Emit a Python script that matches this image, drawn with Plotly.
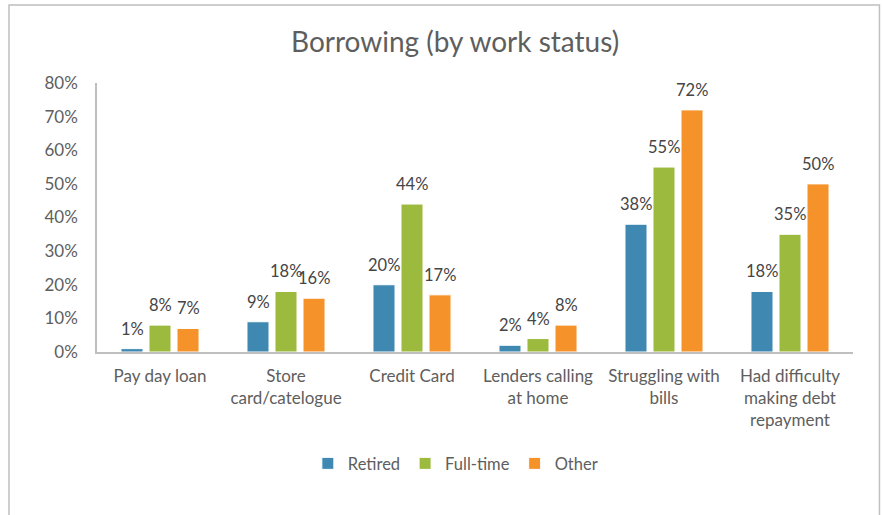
import plotly.graph_objects as go

# Borrowing behaviour by work status (share of respondents)
categories = [
    "Pay day loan",
    "Store<br>card/catelogue",
    "Credit Card",
    "Lenders calling<br>at home",
    "Struggling with<br>bills",
    "Had difficulty<br>making debt<br>repayment",
]
retired = [0.01, 0.09, 0.20, 0.02, 0.38, 0.18]
full_time = [0.08, 0.18, 0.44, 0.04, 0.55, 0.35]
other = [0.07, 0.16, 0.17, 0.08, 0.72, 0.50]

series = [
    ("Retired", retired, "#3F88B2"),
    ("Full-time", full_time, "#9CBA3D"),
    ("Other", other, "#F5922A"),
]

FONT = "Lato, 'Open Sans', sans-serif"
TEXT_GREY = "#5E5E5E"
LABEL_GREY = "#454545"

fig = go.Figure()
for name, vals, color in series:
    fig.add_trace(go.Bar(
        name=name,
        x=categories,
        y=vals,
        marker=dict(color=color, line=dict(color="white", width=1)),
        hoverinfo="skip",
    ))

# value labels above each bar
slot_px = 28
for i, (name, vals, color) in enumerate(series):
    for cat, v in zip(categories, vals):
        fig.add_annotation(
            x=cat, y=v, xref="x", yref="y",
            text=f"{v:.0%}",
            showarrow=False,
            xshift=(i - 1) * slot_px,
            yanchor="bottom",
            yshift=8,
            font=dict(family=FONT, size=16.5, color=LABEL_GREY),
        )

# chart border
fig.add_shape(
    type="rect", xref="paper", yref="paper",
    x0=-0.1164, x1=1.035, y0=-0.7, y1=1.29,
    line=dict(color="#BFBFBF", width=1.5),
    fillcolor="rgba(0,0,0,0)",
    layer="below",
)

fig.update_layout(
    width=882, height=515,
    margin=dict(l=97, r=29, t=83, b=163),
    paper_bgcolor="white",
    plot_bgcolor="white",
    barmode="group",
    bargap=0.333,
    bargroupgap=0.214,
    title=dict(
        text="Borrowing (by work status)",
        x=0.516, xanchor="center",
        y=0.918, yanchor="middle",
        font=dict(family=FONT, size=28, color=TEXT_GREY),
    ),
    font=dict(family=FONT, color=TEXT_GREY),
    legend=dict(
        orientation="h",
        x=0.474, xanchor="center",
        y=-0.415, yanchor="middle",
        font=dict(family=FONT, size=16.5, color=TEXT_GREY),
        itemwidth=30,
        traceorder="normal",
    ),
    showlegend=True,
)

fig.update_xaxes(
    showline=True, linecolor="#BFBFBF", linewidth=1.5,
    showgrid=False, ticks="",
    tickfont=dict(family=FONT, size=17, color=TEXT_GREY),
    ticklabelstandoff=8,
    fixedrange=True,
)
fig.update_yaxes(
    range=[0, 0.8],
    tickvals=[0, 0.1, 0.2, 0.3, 0.4, 0.5, 0.6, 0.7, 0.8],
    tickformat=".0%",
    showline=True, linecolor="#BFBFBF", linewidth=1.5,
    showgrid=False, zeroline=False, ticks="",
    tickfont=dict(family=FONT, size=17, color=TEXT_GREY),
    ticklabelstandoff=14,
    fixedrange=True,
)

fig.write_html("out.html")
